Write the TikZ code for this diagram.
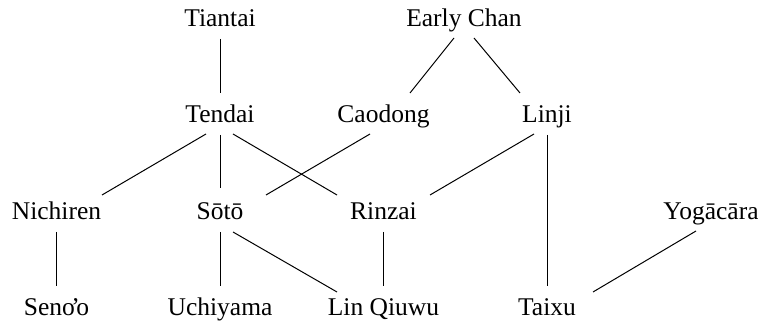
\documentclass[tikz,border=0pt]{standalone}
\usepackage{fontspec}
\setmainfont{Liberation Serif}
\begin{document}
\begin{tikzpicture}[x=1pt,y=1pt,
  lbl/.style={inner sep=0pt, anchor=base, font=\fontsize{25.5}{30}\selectfont},
  edge/.style={line width=1pt}]
\useasboundingbox (0,0) rectangle (758,326);
\node[lbl] (tiantai) at (220,299) {Tiantai};
\node[lbl] (earlychan) at (464,299) {Early Chan};
\node[lbl] (tendai) at (220,203) {Tendai};
\node[lbl] (caodong) at (383.5,203) {Caodong};
\node[lbl] (linji) at (547,203) {Linji};
\node[lbl] (nichiren) at (56.5,106) {Nichiren};
\node[lbl] (soto) at (220,106) {Sōtō};
\node[lbl] (rinzai) at (383.5,106) {Rinzai};
\node[lbl] (yogacara) at (711,106) {Yogācāra};
\node[lbl] (senoo) at (56.5,10) {Seno\kern-3.5pt’\kern-3.5pt o};
\node[lbl] (uchiyama) at (220,10) {Uchiyama};
\node[lbl] (linqiuwu) at (383.5,10) {Lin Qiuwu};
\node[lbl] (taixu) at (547,10) {Taixu};

% row 1 -> row 2
\draw[edge] ([yshift=-12]tiantai.base) -- ([yshift=30]tendai.base);
\draw[edge] ([shift={(-10,-11)}]earlychan.base) -- ([shift={(26.5,30)}]caodong.base);
\draw[edge] ([shift={(10,-11)}]earlychan.base) -- ([shift={(-27,30)}]linji.base);
% row 2 -> row 3
\draw[edge] ([shift={(-14,-11)}]tendai.base) -- ([shift={(45.5,25)}]nichiren.base);
\draw[edge] ([yshift=-12]tendai.base) -- ([yshift=32]soto.base);
\draw[edge] ([shift={(13,-11)}]tendai.base) -- ([shift={(-46.5,25)}]rinzai.base);
\draw[edge] ([shift={(-13.5,-11)}]caodong.base) -- ([shift={(46,25)}]soto.base);
\draw[edge] ([shift={(-13,-11)}]linji.base) -- ([shift={(46.5,25)}]rinzai.base);
\draw[edge] ([yshift=-12]linji.base) -- ([yshift=30]taixu.base);
% row 3 -> row 4
\draw[edge] ([yshift=-12]nichiren.base) -- ([yshift=30]senoo.base);
\draw[edge] ([yshift=-12]soto.base) -- ([yshift=30]uchiyama.base);
\draw[edge] ([shift={(13,-12)}]soto.base) -- ([shift={(-46.5,24)}]linqiuwu.base);
\draw[edge] ([yshift=-12]rinzai.base) -- ([yshift=30]linqiuwu.base);
\draw[edge] ([shift={(-15,-11)}]yogacara.base) -- ([shift={(46,24)}]taixu.base);
\end{tikzpicture}
\end{document}
